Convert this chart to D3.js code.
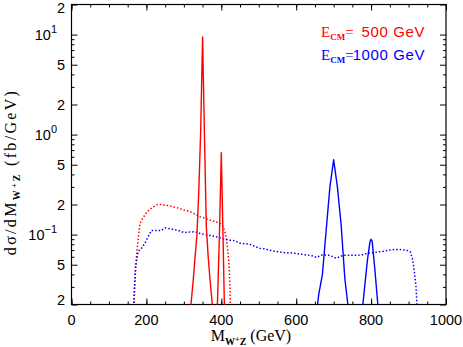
<!DOCTYPE html>
<html>
<head>
<meta charset="utf-8">
<script src="https://cdn.jsdelivr.net/npm/d3@7"></script>
<style>
  body { margin: 0; background: #fff; }
  svg { display: block; }
</style>
</head>
<body>
<svg width="463" height="347"></svg>
<script>
// E_CM = 500 GeV, full process (solid) : two resonance peaks
const red500Peaks = [
  [315, 0.015], [320, 0.022], [325, 0.035], [330, 0.06], [335, 0.1], [340, 0.28],
  [345, 1.1], [350, 9.5], [355, 1.0], [360, 0.12], [365, 0.06], [370, 0.035],
  [376, 0.02], [380, 0.015]
];
const red500Peak2 = [
  [387, 0.015], [390, 0.022], [395, 0.1], [400, 0.66], [405, 0.08], [408, 0.022], [410, 0.015]
];
// E_CM = 500 GeV, background (dotted)
const red500Cont = [
  [165, 0.015], [169, 0.03], [172, 0.05], [175, 0.07], [178, 0.09], [183, 0.13],
  [190, 0.145], [200, 0.166], [210, 0.18], [220, 0.19], [230, 0.2], [240, 0.2],
  [250, 0.196], [260, 0.195], [270, 0.19], [280, 0.186], [290, 0.182], [300, 0.176],
  [316, 0.17], [330, 0.16], [343, 0.151], [356, 0.146], [369, 0.14], [382, 0.135],
  [396, 0.13], [405, 0.12], [410, 0.105], [414, 0.088], [418, 0.065], [421, 0.048],
  [423, 0.03], [425, 0.015]
];
// E_CM = 1000 GeV, full process (solid)
const blue1000Peak1 = [
  [655, 0.017], [660, 0.025], [670, 0.04], [680, 0.11], [690, 0.3], [700, 0.56],
  [710, 0.3], [720, 0.125], [730, 0.036], [738, 0.02], [742, 0.015]
];
const blue1000Peak2 = [
  [775, 0.015], [778, 0.02], [790, 0.055], [797, 0.085], [800, 0.09], [803, 0.085],
  [810, 0.045], [818, 0.02], [821, 0.015]
];
// E_CM = 1000 GeV, background (dotted)
const blue1000Cont = [
  [165, 0.015], [168, 0.03], [171, 0.048], [178, 0.068], [187, 0.073], [196, 0.082],
  [205, 0.096], [214, 0.11], [225, 0.11], [240, 0.11], [250, 0.117], [260, 0.115],
  [270, 0.113], [285, 0.11], [300, 0.105], [315, 0.106], [330, 0.107], [345, 0.102],
  [356, 0.1], [370, 0.098], [383, 0.096], [395, 0.093], [409, 0.09], [423, 0.088],
  [436, 0.087], [449, 0.082], [463, 0.081], [476, 0.08], [490, 0.076], [503, 0.073],
  [516, 0.072], [529, 0.07], [543, 0.068], [556, 0.067], [570, 0.066], [583, 0.066],
  [596, 0.065], [609, 0.064], [623, 0.063], [636, 0.062], [645, 0.061], [654, 0.059],
  [662, 0.061], [671, 0.063], [680, 0.062], [689, 0.062], [698, 0.06], [707, 0.058],
  [716, 0.06], [725, 0.062], [738, 0.062], [751, 0.062], [765, 0.062], [778, 0.063],
  [791, 0.065], [805, 0.066], [818, 0.067], [831, 0.068], [849, 0.07], [862, 0.071],
  [876, 0.071], [894, 0.07], [905, 0.067], [911, 0.056], [916, 0.041], [920, 0.03],
  [924, 0.015]
];

const xMajor = [0, 200, 400, 600, 800, 1000];
const xMinor = d3.range(0, 1001, 50);
const yMajor = [0.02, 0.05, 0.1, 0.2, 0.5, 1, 2, 5, 10, 20];
const yMinor = [0.03, 0.04, 0.06, 0.07, 0.08, 0.09, 0.3, 0.4, 0.6, 0.7, 0.8, 0.9,
                3, 4, 6, 7, 8, 9];
const yLabels = [
  [0.02, "2"], [0.05, "5"], [0.1, "10", "\u22121"], [0.2, "2"], [0.5, "5"],
  [1, "10", "0"], [2, "2"], [5, "5"], [10, "10", "1"], [20, "2"]
];

const svg = d3.select('svg');
const L = 71.5, R = 446, T = 4.5, B = 304.5;

const x = d3.scaleLinear().domain([0, 1000]).range([L, R]);
const y = d3.scaleLog().domain([0.02, 20]).range([B, T]);

svg.append('clipPath').attr('id', 'plot')
  .append('rect').attr('x', L).attr('y', T).attr('width', R - L).attr('height', B - T);

// ticks (inside, all four sides)
function ticks(axis, vals, size, tr) {
  svg.append('g').attr('transform', tr)
    .call(axis.tickValues(vals).tickSize(size).tickFormat(''))
    .call(g => g.select('.domain').remove())
    .call(g => g.selectAll('line').attr('stroke', '#000'));
}
ticks(d3.axisBottom(x), xMinor, -3, `translate(0,${B})`);
ticks(d3.axisBottom(x), xMajor, -6, `translate(0,${B})`);
ticks(d3.axisTop(x), xMinor, -3, `translate(0,${T})`);
ticks(d3.axisTop(x), xMajor, -6, `translate(0,${T})`);
ticks(d3.axisLeft(y), yMinor, -3, `translate(${L},0)`);
ticks(d3.axisLeft(y), yMajor, -6, `translate(${L},0)`);
ticks(d3.axisRight(y), yMinor, -3, `translate(${R},0)`);
ticks(d3.axisRight(y), yMajor, -6, `translate(${R},0)`);

// frame
svg.append('rect').attr('x', L).attr('y', T).attr('width', R - L).attr('height', B - T)
  .attr('fill', 'none').attr('stroke', '#000').attr('stroke-width', 1.2);

// x tick labels
svg.append('g').selectAll('text').data(xMajor).join('text')
  .attr('x', d => x(d)).attr('y', 325)
  .attr('text-anchor', 'middle')
  .style('font-family', '"Liberation Sans", Arial, sans-serif')
  .style('font-size', '14.5px')
  .text(d => d);

// y tick labels
const yl = svg.append('g')
  .style('font-family', '"Liberation Sans", Arial, sans-serif');
yLabels.forEach(([v, base, exp]) => {
  let yy = y(v) + 5;
  if (v === 0.02) yy -= 5;
  if (v === 20) yy += 3;
  if (exp === undefined) {
    yl.append('text').attr('x', 65).attr('y', yy).attr('text-anchor', 'end')
      .style('font-size', '14.5px').text(base);
  } else {
    const t = yl.append('text').attr('x', 57).attr('y', yy).attr('text-anchor', 'end');
    t.append('tspan').style('font-size', '14.5px').text(base);
    t.append('tspan').attr('dy', -7).style('font-size', '11px').text(exp);
  }
});

// curves
const line = d3.line().x(d => x(d[0])).y(d => y(d[1]));
const curves = svg.append('g').attr('clip-path', 'url(#plot)');
[[red500Cont, 'red'], [blue1000Cont, 'blue']].forEach(([d, c]) => {
  curves.append('path').datum(d).attr('d', line)
    .attr('fill', 'none').attr('stroke', c).attr('stroke-width', 1.5)
    .attr('stroke-dasharray', '1.5 2');
});
[[red500Peaks, 'red'], [red500Peak2, 'red'], [blue1000Peak1, 'blue'], [blue1000Peak2, 'blue']]
  .forEach(([d, c]) => {
    curves.append('path').datum(d).attr('d', line)
      .attr('fill', 'none').attr('stroke', c).attr('stroke-width', 1.4)
      .attr('stroke-linejoin', 'round');
  });

// legend
[[37, 'red', '500 GeV'], [60, 'blue', '1000 GeV']].forEach(([yy, c, txt]) => {
  const t = svg.append('text').attr('x', 321).attr('y', yy).attr('fill', c)
    .style('font-family', '"Liberation Serif", "Times New Roman", serif');
  t.append('tspan').style('font-size', '15px').text('E');
  t.append('tspan').attr('dy', 3).style('font-size', '9px').style('font-weight', 'bold').text('CM');
  t.append('tspan').attr('dy', -3).style('font-size', '15px').text('=');
  svg.append('text').attr('x', 425).attr('y', yy).attr('fill', c)
    .attr('text-anchor', 'end')
    .style('font-family', '"Liberation Sans", Arial, sans-serif')
    .style('font-size', '15px').style('letter-spacing', '0.6px')
    .text(txt);
});

// axis titles
const xt = svg.append('text').attr('x', 251).attr('y', 341).attr('text-anchor', 'middle')
  .style('font-family', '"Liberation Serif", "Times New Roman", serif').style('font-size', '16px');
xt.append('tspan').text('M');
xt.append('tspan').attr('dy', 4).style('font-size', '10px').style('font-weight', 'bold').text('W');
xt.append('tspan').attr('dy', -3).style('font-size', '8px').style('font-weight', 'bold').text('+');
xt.append('tspan').attr('dy', 3).style('font-size', '10px').style('font-weight', 'bold').text('Z');
xt.append('tspan').attr('dy', -4).text(' (GeV)');

const yt = svg.append('text').attr('transform', 'translate(16,172) rotate(-90)')
  .attr('text-anchor', 'middle')
  .style('font-family', '"Liberation Serif", "Times New Roman", serif').style('font-size', '16px')
  .style('letter-spacing', '2.3px');
yt.append('tspan').text('d\u03c3/dM');
yt.append('tspan').attr('dy', 4).style('font-size', '10px').style('font-weight', 'bold').text('W');
yt.append('tspan').attr('dy', -3).style('font-size', '8px').style('font-weight', 'bold').text('+');
yt.append('tspan').attr('dy', 3).style('font-size', '10px').style('font-weight', 'bold').text('Z');
yt.append('tspan').attr('dy', -4).text(' (fb/GeV)');
</script>
</body>
</html>
